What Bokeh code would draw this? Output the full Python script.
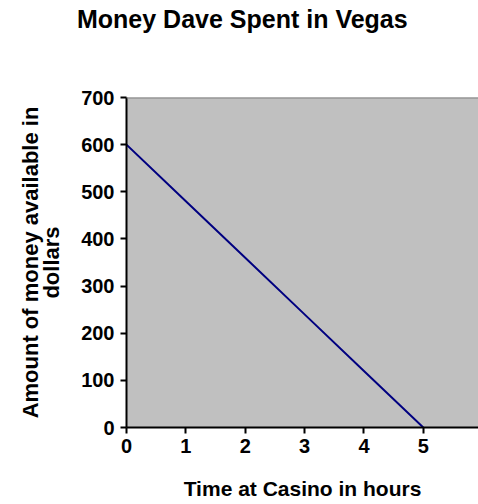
from bokeh.plotting import figure
from bokeh.models import Range1d, FixedTicker, Span, Div
from bokeh.layouts import column
from bokeh.embed import file_html
from bokeh.resources import INLINE

title_text = "Money Dave Spent in Vegas"
hours = [0, 1, 2, 3, 4, 5]
money = [600, 480, 360, 240, 120, 0]
x_ticks = [0, 1, 2, 3, 4, 5, 6]
y_ticks = [0, 100, 200, 300, 400, 500, 600, 700]

FONT = "Liberation Sans"

title = Div(text=title_text, width=478, height=35,
            styles={"font-family": FONT, "font-size": "25px", "font-weight": "bold",
                    "color": "black", "text-indent": "72px", "line-height": "28px",
                    "white-space": "nowrap"})

p = figure(width=478, height=457, output_backend="svg", toolbar_location=None,
           x_range=Range1d(0, 5.93), y_range=Range1d(0, 700),
           min_border_left=126, min_border_right=0, min_border_top=52, min_border_bottom=75,
           background_fill_color="#C0C0C0", border_fill_color="white",
           outline_line_color=None)

p.line(hours, money, line_color="#000080", line_width=2)

p.add_layout(Span(location=700, dimension="width", line_color="#808080", line_width=2))

for ax in (p.xaxis[0], p.yaxis[0]):
    ax.axis_line_color = "black"
    ax.axis_line_width = 2
    ax.major_tick_line_color = "black"
    ax.major_tick_line_width = 2
    ax.major_tick_out = 6
    ax.major_tick_in = 0
    ax.minor_tick_line_color = None
    ax.major_label_text_font = FONT
    ax.major_label_text_font_style = "bold"
    ax.major_label_text_font_size = "20px"
    ax.major_label_text_color = "black"
    ax.axis_label_text_font = FONT
    ax.axis_label_text_font_style = "bold"
    ax.axis_label_text_color = "black"

p.xaxis.ticker = FixedTicker(ticks=x_ticks)
p.yaxis.ticker = FixedTicker(ticks=y_ticks)
p.xaxis.axis_label = "Time at Casino in hours"
p.xaxis.axis_label_text_font_size = "21px"
p.xaxis.axis_label_standoff = 21
p.xaxis.major_label_standoff = 5
p.yaxis.axis_label = "Amount of money available in\ndollars"
p.yaxis.axis_label_text_font_size = "22px"
p.yaxis.axis_label_text_line_height = 0.85
p.yaxis.axis_label_standoff = 14
p.yaxis.major_label_standoff = 6

p.xgrid.grid_line_color = None
p.ygrid.grid_line_color = None

layout = column(title, p, spacing=0)
open("out.html", "w").write(file_html(layout, INLINE))
